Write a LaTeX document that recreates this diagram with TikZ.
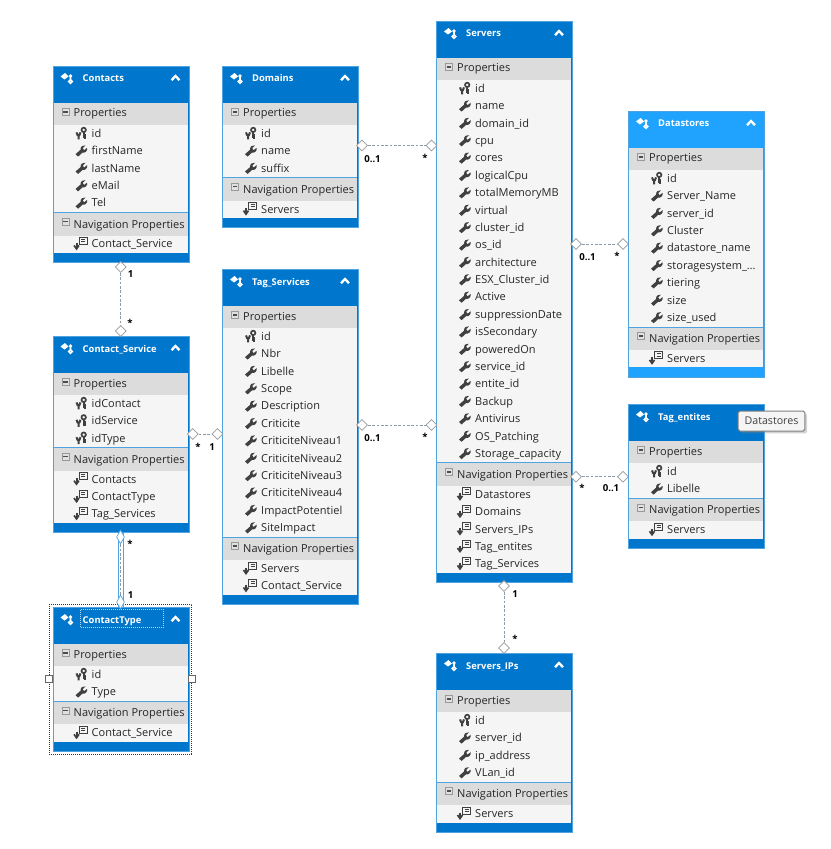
\documentclass[tikz,border=0pt]{standalone}
\usepackage{fontspec}
\setmainfont{Open Sans}
\usetikzlibrary{shapes.geometric,shadows}
\definecolor{entityblue}{HTML}{0077CC}
\definecolor{hoverblue}{HTML}{1FA3FF}
\definecolor{edgeblue}{HTML}{4FA3E0}
\definecolor{bandgrey}{HTML}{DCDCDC}
\definecolor{rowgrey}{HTML}{F5F5F5}
\definecolor{icongrey}{HTML}{404040}
\definecolor{linkgrey}{HTML}{8D9BA8}
\tikzset{
  entitybox/.style={draw=edgeblue,line width=0.03cm,rectangle,inner sep=0pt,minimum width=4.08cm},
  rowtext/.style={anchor=base west,inner sep=0pt,text=black!85,font=\fontsize{9.4}{11}\selectfont},
  titletext/.style={anchor=base west,inner sep=0pt,text=white,font=\fontsize{8}{10}\selectfont\bfseries},
  endmark/.style={diamond,draw=black!40,fill=white,inner sep=0pt,minimum size=0.33cm,line width=0.02cm},
  relation/.style={draw=linkgrey,dashed,line width=0.025cm,dash pattern=on 0.08cm off 0.05cm},
  multiplicity/.style={inner sep=0pt,text=black,font=\fontsize{8.2}{9}\selectfont\bfseries},
  handle/.style={rectangle,draw=black!60,fill=white,inner sep=0pt,minimum size=0.2cm,line width=0.02cm},
  keyicon/.pic={
    \draw[icongrey,line width=0.05cm] (2.2,-3.5) circle (2.2);
    \draw[icongrey,line width=0.07cm] (2.2,-1.5) -- (2.2,5) (2.2,1.8) -- (4.2,1.8) (2.2,4) -- (4.2,4);
    \draw[icongrey,line width=0.06cm] (-5,-1) .. controls (-4.8,2) and (-3,2.2) .. (-3,2.2) .. controls (-3,2.2) and (-1.2,2) .. (-1,-1) (-3,2.2) -- (-3,6);
  },
  wrenchicon/.pic={
    \fill[icongrey] (-6,3.4) -- (-1,-1) .. controls (-1.2,-4.4) and (1.5,-6) .. (4,-5.4) -- (1.2,-2.6) -- (2.6,-0.6) -- (5.6,-3)
      .. controls (6.4,0) and (3.4,2.6) .. (1,1.8) -- (-3.4,5.8) -- cycle;
  },
  navicon/.pic={
    \draw[icongrey,line width=0.03cm] (-1,-6.5) rectangle (7,0.5);
    \draw[icongrey,line width=0.03cm] (1,-4.5) -- (5,-4.5) (1,-2.3) -- (5,-2.3);
    \draw[icongrey,line width=0.06cm] (-3.5,-1) -- (-3.5,5);
    \draw[icongrey,line width=0.05cm] (-6,1.5) -- (-3.5,5) -- (-1,1.5);
  },
  tableicon/.pic={
    \fill[white] (-7,-1.5) -- (-2.5,-5) -- (1,-1.5) -- (-3,1.5) -- cycle;
    \draw[white,line width=0.05cm] (3,3.5) circle (1.8) (3,-1.5) -- (3,1.5);
    \fill[white] (3,-2) circle (1.8);
  },
  minusicon/.pic={
    \draw[black!40,fill=black!12,line width=0.02cm] (-3.5,-3.5) rectangle (3.5,3.5);
    \draw[black!70,line width=0.04cm] (-2.2,0) -- (2.2,0);
  },
  chevronicon/.pic={
    \draw[white,line width=0.07cm] (-4,2.2) -- (0,-2) -- (4,2.2);
  }
}
% name, left, top, title, properties, navigation properties
\newcommand{\entity}[7][entityblue]{
  \foreach \q [count=\c] in {#6} {\xdef\propcount{\c}}
  \foreach \q [count=\c] in {#7} {\xdef\navcount{\c}}
  \pgfmathsetmacro{\propend}{#4+59.6+17.38*\propcount}
  \pgfmathsetmacro{\navtop}{\propend+23}
  \pgfmathsetmacro{\navend}{\navtop+17.38*\navcount}
  \pgfmathsetmacro{\boxh}{\navend+9.3-#4}
  \node[entitybox,fill=#1,minimum height=\boxh*0.03cm,anchor=north west] (#2) at (#3,#4) {};
  \fill[rowgrey] (#3+1,#4+37) rectangle (#3+135,\navend);
  \fill[bandgrey] (#3+1,#4+37) rectangle (#3+135,#4+59);
  \fill[bandgrey] (#3+1,\propend) rectangle (#3+135,\navtop);
  \draw[edgeblue,line width=0.03cm] (#3+1,\propend) -- (#3+135,\propend);
  \pic at (#3+15,#4+12) {tableicon};
  \node[titletext] (#2-title) at (#3+30,#4+16) {#5};
  \pic at (#3+13,#4+46) {minusicon};
  \node[rowtext] (#2-props) at (#3+21,#4+51) {Properties};
  \pic at (#3+13,\propend+9) {minusicon};
  \node[rowtext] (#2-navs) at (#3+21,\propend+15.5) {Navigation Properties};
  \foreach \kind/\txt [count=\i] in {#6}
  {
    \pgfmathsetmacro{\y}{#4+59+8.4+17.38*(\i-1)};
    \pic at (#3+29,\y) {\kind};
    \node[rowtext] (#2-p\i) at (#3+39,\y+4) {\txt};
  }
  \foreach \txt [count=\i] in {#7}
  {
    \pgfmathsetmacro{\y}{\navtop+8.4+17.38*(\i-1)};
    \pic at (#3+27.5,\y) {navicon};
    \node[rowtext] (#2-n\i) at (#3+39,\y+4) {\txt};
  }
}
\begin{document}
\begin{tikzpicture}[x=0.03cm,y=-0.03cm]
  \useasboundingbox (0,0) rectangle (830,849);
  \entity{Contacts}{52.5}{66}{Contacts}
    {keyicon/id,wrenchicon/firstName,wrenchicon/lastName,wrenchicon/eMail,wrenchicon/Tel}
    {Contact\_Service}
  \entity{Domains}{222}{66}{Domains}
    {keyicon/id,wrenchicon/name,wrenchicon/suffix}
    {Servers}
  \entity{Servers}{436}{21}{Servers}
    {keyicon/id,wrenchicon/name,wrenchicon/domain\_id,wrenchicon/cpu,wrenchicon/cores,wrenchicon/logicalCpu,
     wrenchicon/totalMemoryMB,wrenchicon/virtual,wrenchicon/cluster\_id,wrenchicon/os\_id,wrenchicon/architecture,
     wrenchicon/ESX\_Cluster\_id,wrenchicon/Active,wrenchicon/suppressionDate,wrenchicon/isSecondary,
     wrenchicon/poweredOn,wrenchicon/service\_id,wrenchicon/entite\_id,wrenchicon/Backup,wrenchicon/Antivirus,
     wrenchicon/OS\_Patching,wrenchicon/Storage\_capacity}
    {Datastores,Domains,Servers\_IPs,Tag\_entites,Tag\_Services}
  \entity[hoverblue]{Datastores}{628}{111}{Datastores}
    {keyicon/id,wrenchicon/Server\_Name,wrenchicon/server\_id,wrenchicon/Cluster,wrenchicon/datastore\_name,
     wrenchicon/storagesystem\_\ldots,wrenchicon/tiering,wrenchicon/size,wrenchicon/size\_used}
    {Servers}
  \entity{TagEntites}{628}{404}{Tag\_entites}
    {keyicon/id,wrenchicon/Libelle}
    {Servers}
  \entity{TagServices}{222}{269}{Tag\_Services}
    {keyicon/id,wrenchicon/Nbr,wrenchicon/Libelle,wrenchicon/Scope,wrenchicon/Description,wrenchicon/Criticite,
     wrenchicon/CriticiteNiveau1,wrenchicon/CriticiteNiveau2,wrenchicon/CriticiteNiveau3,wrenchicon/CriticiteNiveau4,
     wrenchicon/ImpactPotentiel,wrenchicon/SiteImpact}
    {Servers,Contact\_Service}
  \entity{ContactService}{52.5}{336}{Contact\_Service}
    {keyicon/idContact,keyicon/idService,keyicon/idType}
    {Contacts,ContactType,Tag\_Services}
  \entity{ContactType}{52.5}{607}{ContactType}
    {keyicon/id,wrenchicon/Type}
    {Contact\_Service}
  \entity{ServersIPs}{436}{653}{Servers\_IPs}
    {keyicon/id,wrenchicon/server\_id,wrenchicon/ip\_address,wrenchicon/VLan\_id}
    {Servers}
  % collapse arrows, Tag_entites has its own hidden by the tooltip
  \foreach \x/\y in {175.5/78,345/78,559/33,751/123,345/281,175.5/348,175.5/619,559/665}
  {
    \pic at (\x,\y) {chevronicon};
  }
  % selection round ContactType
  \node[draw=black!80,dash pattern=on 0.03cm off 0.03cm,line width=0.02cm,rectangle,inner sep=0pt,minimum width=4.26cm,minimum height=4.5cm] (selection) at (120.5,679) {};
  \node[draw=white!70!entityblue,densely dotted,line width=0.025cm,rectangle,inner sep=0pt,minimum width=2.48cm,minimum height=0.54cm] (titlebox) at (122,618) {};
  \node[handle] (handleL) at (49,679) {};
  \node[handle] (handleR) at (192,679) {};
  % relation ends
  \node[endmark] (cmA) at (120.7,267) {};
  \node[endmark] (cmB) at (120.7,331) {};
  \node[endmark] (dmA) at (362,145.5) {};
  \node[endmark] (dmB) at (431.5,145.5) {};
  \node[endmark] (csA) at (192.7,434) {};
  \node[endmark] (csB) at (217.5,434) {};
  \node[endmark] (tsA) at (362,425) {};
  \node[endmark] (tsB) at (431.5,425) {};
  \node[endmark] (sdA) at (576,244) {};
  \node[endmark] (sdB) at (623,244) {};
  \node[endmark] (seA) at (576,476.7) {};
  \node[endmark] (seB) at (623,476.7) {};
  \node[endmark] (siA) at (504,586) {};
  \node[endmark] (siB) at (504,648) {};
  \draw[relation] (cmA) -- (cmB);
  \draw[relation] (dmA) -- (dmB);
  \draw[relation] (csA) -- (csB);
  \draw[relation] (tsA) -- (tsB);
  \draw[relation] (sdA) -- (sdB);
  \draw[relation] (seA) -- (seB);
  \draw[relation] (siA) -- (siB);
  % selected relation
  \draw[edgeblue,line width=0.19cm] (ContactService.south) -- (ContactType.north);
  \draw[white,line width=0.12cm] (ContactService.south) -- (ContactType.north);
  \node[endmark,draw=edgeblue,minimum width=0.24cm,minimum height=0.42cm] (ctA) at (120.5,537) {};
  \node[endmark,draw=edgeblue,minimum width=0.24cm,minimum height=0.42cm] (ctB) at (120.5,602) {};
  \draw[relation] (ctA) -- (ctB);
  % multiplicities
  \node[multiplicity] (m1) at (130.5,274.5) {1};
  \node[multiplicity] (m2) at (130,323) {*};
  \node[multiplicity] (m3) at (372.5,159) {0..1};
  \node[multiplicity] (m4) at (425,158) {*};
  \node[multiplicity] (m5) at (198,447) {*};
  \node[multiplicity] (m6) at (212,447.5) {1};
  \node[multiplicity] (m7) at (372.5,438) {0..1};
  \node[multiplicity] (m8) at (425,437) {*};
  \node[multiplicity] (m9) at (587.5,257) {0..1};
  \node[multiplicity] (m10) at (617,256) {*};
  \node[multiplicity] (m11) at (582,488) {*};
  \node[multiplicity] (m12) at (611,488.5) {0..1};
  \node[multiplicity] (m13) at (515,594) {1};
  \node[multiplicity] (m14) at (515,639) {*};
  \node[multiplicity] (m15) at (130,544) {*};
  \node[multiplicity] (m16) at (130.5,595) {1};
  % tooltip
  \node[draw=black!50,fill=black!4,rounded corners=0.05cm,line width=0.03cm,inner sep=0pt,minimum width=2cm,minimum height=0.6cm,
    drop shadow={shadow xshift=0.07cm,shadow yshift=-0.07cm,opacity=0.35},font=\fontsize{9.1}{11}\selectfont,text=black!75] (tooltip) at (771.5,421) {Datastores};
\end{tikzpicture}
\end{document}
